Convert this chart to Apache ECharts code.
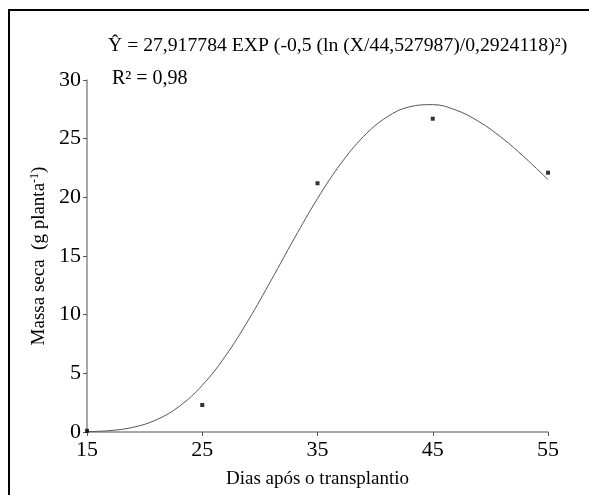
<!DOCTYPE html>
<html><head><meta charset="utf-8">
<script src="https://cdn.jsdelivr.net/npm/echarts@6/dist/echarts.min.js"></script>
<style>html,body{margin:0;padding:0;background:#fff}#c{width:589px;height:495px}</style>
</head><body><div id="c"></div>
<script>
// observed data points
var obsX = [15, 25, 35, 45, 55];
var obsY = [0.1, 2.3, 21.2, 26.7, 22.1];
// fitted curve
var fitX = [15, 17, 19, 21, 23, 25, 27, 29, 31, 33, 35, 37, 39, 41, 43, 45, 47, 49, 51, 53, 55];
var fitY = [0.03, 0.12, 0.40, 1.03, 2.18, 3.98, 6.46, 9.53, 12.97, 16.52, 19.89, 22.84, 25.19, 26.83, 27.72, 27.90, 27.44, 26.46, 25.07, 23.38, 21.51];
var xTicks = [15, 25, 35, 45, 55];
var yTicks = [0, 5, 10, 15, 20, 25, 30];
var eqText = 'Ŷ = 27,917784 EXP (-0,5 (ln (X/44,527987)/0,2924118)²)';
var r2Text = 'R² = 0,98';
var xName = 'Dias após o transplantio';

var font = 'Liberation Serif';
var chart = echarts.init(document.getElementById('c'), null, {renderer: 'canvas'});
chart.setOption({
  animation: false,
  backgroundColor: '#fff',
  grid: {left: 87, right: 41, top: 80, bottom: 63},
  xAxis: {
    type: 'value', min: xTicks[0], max: xTicks[xTicks.length - 1], interval: 10,
    axisLine: {onZero: false, lineStyle: {color: '#8a8a8a', width: 1.5}},
    axisTick: {show: true, length: 4, lineStyle: {color: '#555'}},
    splitLine: {show: false},
    axisLabel: {fontFamily: font, fontSize: 22, color: '#000', margin: 7},
    name: xName, nameLocation: 'middle', nameGap: 38,
    nameTextStyle: {fontFamily: font, fontSize: 19, color: '#000'}
  },
  yAxis: {
    type: 'value', min: yTicks[0], max: yTicks[yTicks.length - 1], interval: 5,
    axisLine: {show: true, lineStyle: {color: '#8a8a8a', width: 1.5}},
    axisTick: {show: true, length: 4, lineStyle: {color: '#555'}},
    splitLine: {show: false},
    axisLabel: {fontFamily: font, fontSize: 22, color: '#000', margin: 6},
    name: '{a|Massa seca  (g planta}{s|-1}{a|)}', nameLocation: 'middle', nameGap: 37,
    nameTextStyle: {
      rich: {
        a: {fontFamily: font, fontSize: 19, color: '#000'},
        s: {fontFamily: font, fontSize: 12, color: '#000', verticalAlign: 'top', padding: [0, 0, 8, 0]}
      }
    }
  },
  series: [
    {
      type: 'line', data: fitX.map(function (x, i) { return [x, fitY[i]]; }),
      smooth: 0.4, showSymbol: false, lineStyle: {color: '#555', width: 1}, z: 2
    },
    {
      type: 'scatter', data: obsX.map(function (x, i) { return [x, obsY[i]]; }),
      symbol: 'rect', symbolSize: 4, itemStyle: {color: '#000'}, z: 3
    }
  ],
  graphic: [
    {type: 'rect', shape: {x: 9, y: 10, width: 700, height: 700}, style: {fill: 'none', stroke: '#000', lineWidth: 2}, silent: true},
    {type: 'text', left: 108, top: 36, style: {text: eqText, font: '19.7px "Liberation Serif"', fill: '#000'}},
    {type: 'text', left: 112, top: 69, style: {text: r2Text, font: '20px "Liberation Serif"', fill: '#000'}}
  ]
});
</script></body></html>
